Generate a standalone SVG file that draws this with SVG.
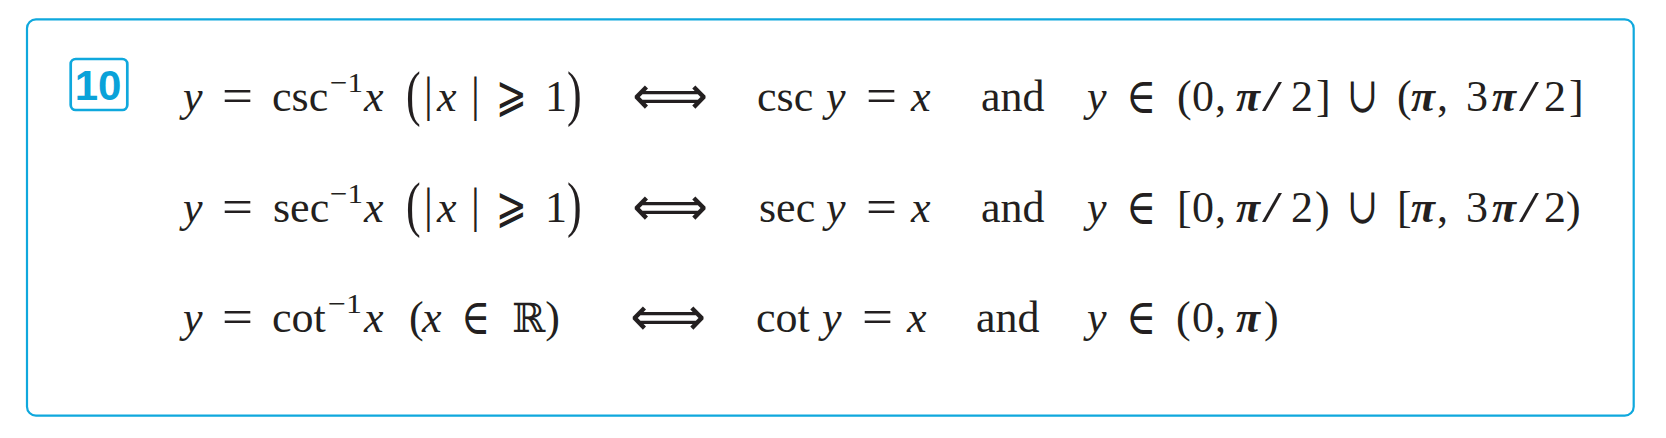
<svg xmlns="http://www.w3.org/2000/svg" width="1666" height="438" viewBox="0 0 1666 438">
<style>
text{font-family:"Liberation Serif","DejaVu Serif",serif;font-size:44px;fill:#231f20}
.i{font-style:italic}
.p{font-style:italic;font-weight:bold}
.s{font-size:28px}
.q{font-size:48px}
.m{font-family:"DejaVu Serif","DejaVu Sans",serif;font-size:50px}
.e{font-family:"DejaVu Serif","DejaVu Sans",serif;font-size:50px}
.a{font-family:"DejaVu Sans","DejaVu Serif",sans-serif;font-size:54px}
.r{font-family:"DejaVu Serif","DejaVu Sans",serif;font-size:40px}
.b{font-family:"Liberation Sans","DejaVu Sans",sans-serif;font-weight:bold;font-size:42px;fill:#0aa2d9}
</style>
<rect x="0" y="0" width="1666" height="438" fill="#ffffff"/>
<rect x="27" y="19.3" width="1606.7" height="396.4" rx="9" fill="#ffffff" stroke="#0fa8dd" stroke-width="2.2"/>
<g id="badge">
<rect x="70.7" y="59" width="56.6" height="51" rx="5" fill="none" stroke="#0fa8dd" stroke-width="2.7"/>
<text class="b" x="98" y="100" text-anchor="middle">10</text>
</g>
<g id="row1">
<text class="i" x="183" y="111">y</text>
<text class="q" x="222" y="112" textLength="31" lengthAdjust="spacingAndGlyphs">=</text>
<text x="272" y="111">csc</text>
<text class="s" x="330" y="92" textLength="33" lengthAdjust="spacingAndGlyphs">−1</text>
<text class="i" x="364" y="111">x</text>
<text transform="translate(406,114) scale(1,1.4)">(</text>
<text transform="translate(424,111) scale(1,1.12)">|</text>
<text class="i" x="437" y="111">x</text>
<text transform="translate(471,111) scale(1,1.12)">|</text>
<text class="m" x="496" y="111" textLength="31" lengthAdjust="spacingAndGlyphs">⩾</text>
<text x="545" y="111">1</text>
<text transform="translate(567,114) scale(1,1.4)">)</text>
<text class="a" x="632" y="114" textLength="76" lengthAdjust="spacingAndGlyphs">⟺</text>
<text x="757" y="111">csc</text>
<text class="i" x="826" y="111">y</text>
<text class="q" x="866" y="112" textLength="31" lengthAdjust="spacingAndGlyphs">=</text>
<text class="i" x="911" y="111">x</text>
<text x="981" y="111">and</text>
<text class="i" x="1087" y="111">y</text>
<text class="e" x="1126" y="113" textLength="30" lengthAdjust="spacingAndGlyphs">∈</text>
<text x="1177" y="111">(</text>
<text x="1192" y="111">0</text>
<text x="1215" y="111">,</text>
<text class="p" x="1236" y="111">π</text>
<text x="1262" y="111" textLength="20" lengthAdjust="spacingAndGlyphs">/</text>
<text x="1291" y="111">2</text>
<text x="1316" y="111">]</text>
<text class="m" x="1347" y="112" textLength="31" lengthAdjust="spacingAndGlyphs">∪</text>
<text x="1397" y="111">(</text>
<text class="p" x="1411" y="111">π</text>
<text x="1437" y="111">,</text>
<text x="1466" y="111">3</text>
<text class="p" x="1492" y="111">π</text>
<text x="1519" y="111" textLength="20" lengthAdjust="spacingAndGlyphs">/</text>
<text x="1544" y="111">2</text>
<text x="1569" y="111">]</text>
</g>
<g id="row2">
<text class="i" x="183" y="222">y</text>
<text class="q" x="222" y="223" textLength="31" lengthAdjust="spacingAndGlyphs">=</text>
<text x="273" y="222">sec</text>
<text class="s" x="330" y="203" textLength="33" lengthAdjust="spacingAndGlyphs">−1</text>
<text class="i" x="364" y="222">x</text>
<text transform="translate(406,225) scale(1,1.4)">(</text>
<text transform="translate(424,222) scale(1,1.12)">|</text>
<text class="i" x="437" y="222">x</text>
<text transform="translate(471,222) scale(1,1.12)">|</text>
<text class="m" x="496" y="222" textLength="31" lengthAdjust="spacingAndGlyphs">⩾</text>
<text x="545" y="222">1</text>
<text transform="translate(567,225) scale(1,1.4)">)</text>
<text class="a" x="632" y="225" textLength="76" lengthAdjust="spacingAndGlyphs">⟺</text>
<text x="759" y="222">sec</text>
<text class="i" x="826" y="222">y</text>
<text class="q" x="866" y="223" textLength="31" lengthAdjust="spacingAndGlyphs">=</text>
<text class="i" x="911" y="222">x</text>
<text x="981" y="222">and</text>
<text class="i" x="1087" y="222">y</text>
<text class="e" x="1126" y="224" textLength="30" lengthAdjust="spacingAndGlyphs">∈</text>
<text x="1177" y="222">[</text>
<text x="1192" y="222">0</text>
<text x="1215" y="222">,</text>
<text class="p" x="1236" y="222">π</text>
<text x="1262" y="222" textLength="20" lengthAdjust="spacingAndGlyphs">/</text>
<text x="1291" y="222">2</text>
<text x="1315" y="222">)</text>
<text class="m" x="1347" y="223" textLength="31" lengthAdjust="spacingAndGlyphs">∪</text>
<text x="1397" y="222">[</text>
<text class="p" x="1411" y="222">π</text>
<text x="1437" y="222">,</text>
<text x="1466" y="222">3</text>
<text class="p" x="1492" y="222">π</text>
<text x="1519" y="222" textLength="20" lengthAdjust="spacingAndGlyphs">/</text>
<text x="1544" y="222">2</text>
<text x="1566" y="222">)</text>
</g>
<g id="row3">
<text class="i" x="183" y="332">y</text>
<text class="q" x="222" y="333" textLength="31" lengthAdjust="spacingAndGlyphs">=</text>
<text x="272" y="332">cot</text>
<text class="s" x="328" y="313" textLength="34" lengthAdjust="spacingAndGlyphs">−1</text>
<text class="i" x="364" y="332">x</text>
<text x="409" y="332">(</text>
<text class="i" x="422" y="332">x</text>
<text class="e" x="461" y="334" textLength="29" lengthAdjust="spacingAndGlyphs">∈</text>
<text x="512" y="332"><tspan class="r">ℝ</tspan>)</text>
<text class="a" x="630" y="335" textLength="76" lengthAdjust="spacingAndGlyphs">⟺</text>
<text x="756" y="332">cot</text>
<text class="i" x="822" y="332">y</text>
<text class="q" x="862" y="333" textLength="31" lengthAdjust="spacingAndGlyphs">=</text>
<text class="i" x="907" y="332">x</text>
<text x="976" y="332">and</text>
<text class="i" x="1087" y="332">y</text>
<text class="e" x="1126" y="334" textLength="30" lengthAdjust="spacingAndGlyphs">∈</text>
<text x="1176" y="332">(</text>
<text x="1192" y="332">0</text>
<text x="1215" y="332">,</text>
<text class="p" x="1236" y="332">π</text>
<text x="1264" y="332">)</text>
</g>
</svg>
